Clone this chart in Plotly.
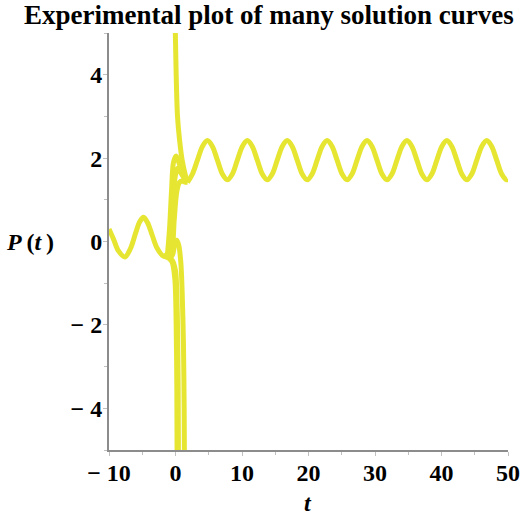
import plotly.graph_objects as go

# ---- data ----
# periodic steady curve (t >= ~2)
main_t = [1.8, 2.55, 3.3, 4.05, 4.8, 5.55, 6.3, 7.05, 7.8,
          8.55, 9.3, 10.05, 10.8, 11.55, 12.3, 13.05, 13.8,
          14.55, 15.3, 16.05, 16.8, 17.55, 18.3, 19.05, 19.8,
          20.55, 21.3, 22.05, 22.8, 23.55, 24.3, 25.05, 25.8,
          26.55, 27.3, 28.05, 28.8, 29.55, 30.3, 31.05, 31.8,
          32.55, 33.3, 34.05, 34.8, 35.55, 36.3, 37.05, 37.8,
          38.55, 39.3, 40.05, 40.8, 41.55, 42.3, 43.05, 43.8,
          44.55, 45.3, 46.05, 46.8, 47.55, 48.3, 49.05, 49.8, 50.0]
main_p = [1.42, 1.62, 1.95, 2.28, 2.42, 2.28, 1.95, 1.62, 1.48,
          1.62, 1.95, 2.28, 2.42, 2.28, 1.95, 1.62, 1.48,
          1.62, 1.95, 2.28, 2.42, 2.28, 1.95, 1.62, 1.48,
          1.62, 1.95, 2.28, 2.42, 2.28, 1.95, 1.62, 1.48,
          1.62, 1.95, 2.28, 2.42, 2.28, 1.95, 1.62, 1.48,
          1.62, 1.95, 2.28, 2.42, 2.28, 1.95, 1.62, 1.48,
          1.62, 1.95, 2.28, 2.42, 2.28, 1.95, 1.62, 1.48,
          1.62, 1.95, 2.28, 2.42, 2.28, 1.95, 1.62, 1.48, 1.49]

# oscillation before t = 0
pre_t = [-10.0, -9.3, -8.6, -7.6, -6.8, -6.0, -5.4, -4.8, -4.2, -3.5, -2.8, -1.8, -1.2]
pre_p = [0.30, 0.05, -0.22, -0.37, -0.18, 0.20, 0.47, 0.58, 0.45, 0.15, -0.15, -0.35, -0.30]

# curve coming down from the top
spike_t = [-0.05, 0.1, 0.3, 0.6, 1.0, 1.5, 1.8]
spike_p = [5.2, 4.0, 3.0, 2.45, 1.95, 1.58, 1.42]

# curves rising to the steady oscillation
up1_t = [-1.2, -0.9, -0.6, -0.3, 0.1, 0.6, 1.2, 1.8]
up1_p = [-0.30, 0.30, 1.20, 1.90, 2.05, 1.85, 1.55, 1.42]
up2_t = [-1.0, -0.7, -0.4, -0.1, 0.3, 0.8, 1.4, 1.8]
up2_p = [-0.32, 0.10, 0.80, 1.50, 1.75, 1.65, 1.50, 1.42]
up3_t = [-0.9, -0.5, -0.2, 0.2, 0.6, 1.0, 1.5, 1.8]
up3_p = [-0.35, -0.20, 0.50, 1.20, 1.42, 1.45, 1.42, 1.42]

# curves falling off the bottom
dn1_t = [-1.8, -1.0, -0.5, -0.1, 0.1, 0.2, 0.25]
dn1_p = [-0.35, -0.40, -0.50, -0.90, -2.0, -3.5, -5.5]
dn2_t = [-1.0, -0.5, 0.0, 0.25, 0.4, 0.45]
dn2_p = [-0.40, -0.45, -0.70, -1.60, -3.5, -5.5]
dn3_t = [-0.8, -0.4, -0.1, 0.2, 0.5, 0.8, 1.0, 1.2, 1.3, 1.35]
dn3_p = [-0.40, -0.30, -0.05, 0.03, -0.10, -0.50, -1.20, -2.50, -4.0, -5.5]

curves = [(pre_t, pre_p), (up1_t, up1_p), (up2_t, up2_p), (up3_t, up3_p),
          (dn1_t, dn1_p), (dn2_t, dn2_p), (dn3_t, dn3_p),
          (spike_t, spike_p), (main_t, main_p)]

x_ticks = [-10, 0, 10, 20, 30, 40, 50]
x_labels = ["\u2212 10", "0", "10", "20", "30", "40", "50"]
y_ticks = [-4, -2, 0, 2, 4]
y_labels = ["\u2212 4", "\u2212 2", "0", "2", "4"]

color = "rgb(230,230,50)"
serif = "Liberation Serif, Times New Roman, serif"

fig = go.Figure()
for t, p in curves:
    fig.add_trace(go.Scatter(x=t, y=p, mode="lines",
                             line=dict(color=color, width=5, shape="spline", smoothing=0.9),
                             showlegend=False, hoverinfo="skip"))

fig.update_layout(
    width=521, height=516,
    margin=dict(l=109, r=13, t=33, b=66),
    paper_bgcolor="white", plot_bgcolor="white",
    title=dict(text="<b>Experimental plot of many solution curves</b>",
               font=dict(family=serif, size=27, color="black"),
               x=0.516, xanchor="center", y=0.972, yanchor="middle"),
    xaxis=dict(range=[-10, 50], showgrid=False, zeroline=False, automargin=False,
               showline=True, linecolor="#8c8c8c", linewidth=2,
               tickmode="array", tickvals=x_ticks, ticktext=x_labels,
               ticks="outside", ticklen=4, tickcolor="#c0c0c0", tickwidth=1,
               ticklabelstandoff=-4,
               minor=dict(dtick=5, ticks="outside", ticklen=3, tickcolor="#c0c0c0"),
               tickfont=dict(family=serif, size=24, color="black", weight="bold")),
    yaxis=dict(range=[-5, 5], showgrid=False, zeroline=False, automargin=False,
               showline=True, linecolor="#8c8c8c", linewidth=2,
               tickmode="array", tickvals=y_ticks, ticktext=y_labels,
               ticks="outside", ticklen=4, tickcolor="#c0c0c0", tickwidth=1,
               ticklabelstandoff=-4,
               minor=dict(dtick=1, ticks="outside", ticklen=3, tickcolor="#c0c0c0"),
               tickfont=dict(family=serif, size=24, color="black", weight="bold")),
    annotations=[
        dict(text="<b><i>P</i>\u2009(<i>t</i>\u2009)</b>", xref="paper", yref="paper",
             x=-0.198, y=0.5, xanchor="center", yanchor="middle", showarrow=False,
             font=dict(family=serif, size=24, color="black")),
        dict(text="<b><i>t</i></b>", xref="paper", yref="paper",
             x=0.499, y=-0.127, xanchor="center", yanchor="middle", showarrow=False,
             font=dict(family=serif, size=24, color="black")),
    ],
)

fig.write_html("out.html",
               config={"displayModeBar": False},
               post_script="document.body.style.margin='0';document.body.style.overflow='hidden';")
